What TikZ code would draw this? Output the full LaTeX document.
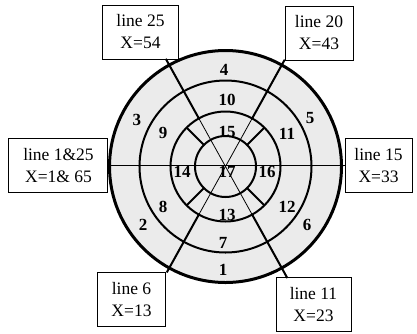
\documentclass[tikz,border=0pt]{standalone}
\usepackage{fontspec}
\setmainfont{Liberation Serif}
\usetikzlibrary{positioning}

\begin{document}
\begin{tikzpicture}[x=1pt,y=1pt]
  \tikzstyle{box}=[draw,line width=1pt,fill=white,align=center,minimum height=54pt,inner sep=0pt,font=\fontsize{17.5}{22}\selectfont]
  \tikzstyle{seg}=[inner sep=0pt,font=\bfseries\fontsize{17}{17}\selectfont]
  \tikzstyle{ring}=[line width=2pt]
  \tikzstyle{radial}=[line width=2pt]
  \tikzstyle{thinline}=[line width=0.8pt]
  \useasboundingbox (-225.5,-166.5) rectangle (191.5,166.5);
  \coordinate (c) at (0,0);
  \fill[black!8] (c) circle (116);
  % boxes
  \node[box,minimum width=75pt] (b25) at (-85,134.5) {line 25\\X=54};
  \node[box,minimum width=68pt] (b20) at (93.5,133.5) {line 20\\X=43};
  \node[box,minimum width=99pt] (b1) at (-167,1) {line 1\&25\\X=1\& 65};
  \node[box,minimum width=67pt] (b15) at (153,1) {line 15\\X=33};
  \node[box,minimum width=67pt] (b6) at (-94,-133) {line 6\\X=13};
  \node[box,minimum width=75pt] (b11) at (88,-138) {line 11\\X=23};
  % ends of the cut lines
  \coordinate (e25) at (119:123);
  \coordinate (e20) at (61:122);
  \coordinate (e6) at (241:121);
  \coordinate (e11) at (299:127.5);
  \coordinate (i25) at (119:55);
  \coordinate (i20) at (61:55);
  \coordinate (i6) at (241:55);
  \coordinate (i11) at (299:55);
  \draw[thinline] (e25) -- (e11);
  \draw[thinline] (e20) -- (e6);
  \draw[radial] (e25) -- (i25);
  \draw[radial] (e20) -- (i20);
  \draw[radial] (e6) -- (i6);
  \draw[radial] (e11) -- (i11);
  \draw[line width=1.3pt] (b1.east) -- (b15.west);
  \foreach \a in {45,135,225,315}
    \draw[radial] (\a:30.5) -- (\a:55);
  % rings
  \draw[line width=3pt] (c) circle (116);
  \draw[ring] (c) circle (86);
  \draw[ring] (c) circle (55);
  \draw[ring] (c) circle (30.5);
  % segment numbers
  \node[seg] (s1) at (-2.5,-103.5) {1};
  \node[seg] (s2) at (-82.5,-58.5) {2};
  \node[seg] (s3) at (-88.5,46.5) {3};
  \node[seg] (s4) at (-1.5,96.5) {4};
  \node[seg] (s5) at (84.5,48.5) {5};
  \node[seg] (s6) at (81.5,-58.5) {6};
  \node[seg] (s7) at (-2.5,-76.5) {7};
  \node[seg] (s8) at (-62.5,-40.5) {8};
  \node[seg] (s9) at (-62.5,33.5) {9};
  \node[seg] (s10) at (1.5,66.5) {10};
  \node[seg] (s11) at (61.5,32.5) {11};
  \node[seg] (s12) at (61.5,-40.5) {12};
  \node[seg] (s13) at (1.5,-48.5) {13};
  \node[seg] (s14) at (-43.5,-5.5) {14};
  \node[seg] (s15) at (1.5,34.5) {15};
  \node[seg] (s16) at (41.5,-5.5) {16};
  \node[seg] (s17) at (1.5,-5.5) {17};
\end{tikzpicture}
\end{document}
